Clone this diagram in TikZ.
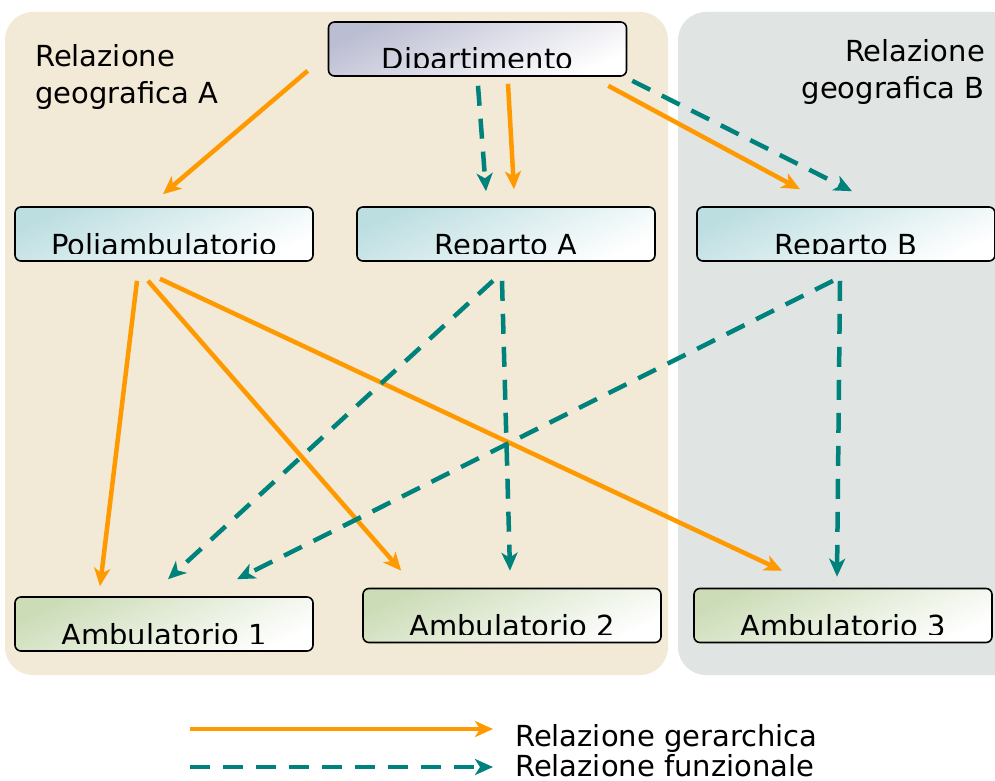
\documentclass[tikz,border=0pt]{standalone}
\usepackage{fontspec}
\setmainfont{DejaVu Sans}
\usetikzlibrary{arrows.meta}

\definecolor{beige}{HTML}{F2E9D6}
\definecolor{grigio}{HTML}{E0E5E3}
\definecolor{arancio}{HTML}{FF9900}
\definecolor{verdeacqua}{HTML}{00827C}
\definecolor{lilla}{HTML}{BBBDD2}
\definecolor{azzurro}{HTML}{BDDEE1}
\definecolor{salvia}{HTML}{CCDCB7}

\newcommand{\testo}{\fontsize{29}{37}\selectfont}

\tikzset{
  box/.style 2 args={draw,line width=1.6pt,rounded corners=6pt,
    minimum width=298pt,minimum height=54pt,inner sep=0pt,
    top color=#1,bottom color=white,shading angle=25,
    path picture={
      \clip ([yshift=8pt]path picture bounding box.south west) rectangle (path picture bounding box.north east);
      \node[anchor=base,font=\testo] at ([yshift=6pt]path picture bounding box.south) {#2};
    }},
  gerarchica/.style={arancio,line width=4.5pt,-{Stealth[length=18pt,width=16pt,inset=5pt]}},
  funzionale/.style={verdeacqua,line width=4.5pt,dash pattern=on 20pt off 13pt,
    -{Stealth[length=18pt,width=16pt,inset=5pt]}}
}

\begin{document}
\begin{tikzpicture}[x=1pt,y=-1pt]
\useasboundingbox[fill=white] (0,0) rectangle (995,781);

% sfondi
\fill[beige,rounded corners=28pt] (5,12) rectangle (668,675);
\fill[grigio,rounded corners=28pt] (678,12) rectangle (1030,675);
\node[anchor=north west,align=left,inner sep=0pt,font=\testo] (geoA) at (35,44) {Relazione\\geografica A};
\node[anchor=north east,align=right,inner sep=0pt,font=\testo] (geoB) at (985,39) {Relazione\\geografica B};

% unita
\node[box={lilla}{Dipartimento}] (dip) at (477.5,49) {};
\node[box={azzurro}{Poliambulatorio}] (poli) at (164,234) {};
\node[box={azzurro}{Reparto A}] (repA) at (506,234) {};
\node[box={azzurro}{Reparto B}] (repB) at (846,234) {};
\node[box={salvia}{Ambulatorio 1}] (amb1) at (164,624) {};
\node[box={salvia}{Ambulatorio 2}] (amb2) at (512,615.5) {};
\node[box={salvia}{Ambulatorio 3}] (amb3) at (843,615.5) {};

% relazioni gerarchiche
\draw[gerarchica] ([shift={(-20,-6)}]dip.south west) -- ([shift={(-1,-12)}]poli.north);
\draw[gerarchica] ([shift={(30.5,7)}]dip.south) -- ([shift={(8,-17)}]repA.north);
\draw[gerarchica] ([shift={(-19,9)}]dip.south east) -- ([shift={(-46,-17)}]repB.north);
\draw[gerarchica] ([shift={(-27,19)}]poli.south) -- ([shift={(-64,-10)}]amb1.north);
\draw[gerarchica] ([shift={(-16,19)}]poli.south) -- ([shift={(39,-17)}]amb2.north west);
\draw[gerarchica] ([shift={(-4,17)}]poli.south) -- ([shift={(89,-17)}]amb3.north west);

% relazioni funzionali
\draw[funzionale] ([shift={(0.5,9)}]dip.south) -- ([shift={(-20,-15)}]repA.north);
\draw[funzionale] ([shift={(5,4)}]dip.south east) -- ([shift={(6,-15)}]repB.north);
\draw[funzionale] ([shift={(-13,19)}]repA.south) -- ([shift={(4,-17)}]amb1.north);
\draw[funzionale] ([shift={(-4,19)}]repA.south) -- ([shift={(-2,-17)}]amb2.north);
\draw[funzionale] ([shift={(-13,19)}]repB.south) -- ([shift={(73,-17)}]amb1.north);
\draw[funzionale] ([shift={(-6,19)}]repB.south) -- ([shift={(-6,-11)}]amb3.north);

% legenda
\coordinate (g0) at (190,729);
\coordinate (g1) at (493,729);
\coordinate (f0) at (190,767);
\coordinate (f1) at (493,767);
\node[anchor=base west,inner sep=0pt,font=\testo] (tg) at (515,746) {Relazione gerarchica};
\node[anchor=base west,inner sep=0pt,font=\testo] (tf) at (515,776) {Relazione funzionale};
\draw[gerarchica] (g0) -- (g1);
\draw[funzionale] (f0) -- (f1);
\end{tikzpicture}
\end{document}
